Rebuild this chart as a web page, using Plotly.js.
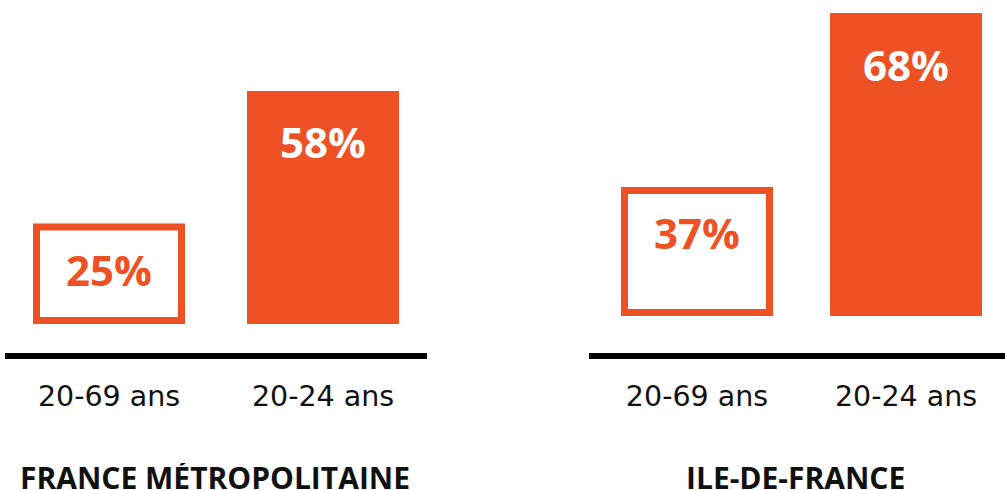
<!DOCTYPE html>
<html>
<head>
<meta charset="utf-8">
<script src="https://cdn.plot.ly/plotly-3.0.1.min.js"></script>
<style>html,body{margin:0;padding:0;background:#fff;}#chart{width:1005px;height:490px;}</style>
</head>
<body>
<div id="chart"></div>
<script>
// ---- data ----
const categories = ['20-69 ans', '20-24 ans'];
const franceValues = [25, 58];
const idfValues = [37, 68];
const groupTitles = ['FRANCE MÉTROPOLITAINE', 'ILE-DE-FRANCE'];

// ---- style / layout ----
const ORANGE = '#EE5123';
const STROKE = 7;          // outline width in px
const PLOT_H = 353;        // plot area height in px
const W = 1005, H = 490;

// per-group axis set-up
const groups = [
  {values: franceValues, title: groupTitles[0], xa: 'x', ya: 'y',
   yRange: [-7.22, 80.65], base: 0, pxPerUnit: 233 / 58,
   xDomain: [5 / W, 427 / W], xRange: [-0.486, 1.486], catPx: 214, titleX: 215 / W},
  {values: idfValues, title: groupTitles[1], xa: 'x2', ya: 'y2',
   yRange: [7.41, 70.32], base: 14, pxPerUnit: 174 / 31,
   xDomain: [589 / W, 1], xRange: [-0.5167, 1.4737], catPx: 209, titleX: 795 / W}
];

const traces = [];
const annotations = [];
groups.forEach(g => {
  const inset = (STROKE / 2) / g.pxPerUnit;
  // outlined bar (first category)
  traces.push({
    type: 'bar', xaxis: g.xa, yaxis: g.ya,
    x: [categories[0]], y: [g.values[0] - g.base - 2 * inset], base: [g.base + inset],
    width: (152 - STROKE) / g.catPx,
    marker: {color: '#ffffff', line: {color: ORANGE, width: STROKE}},
    hoverinfo: 'skip', showlegend: false
  });
  // filled bar (second category)
  traces.push({
    type: 'bar', xaxis: g.xa, yaxis: g.ya,
    x: [categories[1]], y: [g.values[1] - g.base], base: [g.base],
    width: 152 / g.catPx,
    marker: {color: ORANGE, line: {width: 0}},
    hoverinfo: 'skip', showlegend: false
  });
  // value labels
  annotations.push({
    xref: g.xa, yref: g.ya, x: categories[0], y: g.values[0],
    text: g.values[0] + '%', showarrow: false, yanchor: 'middle', yshift: -46,
    font: {family: 'Open Sans', size: 42, color: ORANGE, weight: 700}
  });
  annotations.push({
    xref: g.xa, yref: g.ya, x: categories[1], y: g.values[1],
    text: g.values[1] + '%', showarrow: false, yanchor: 'middle', yshift: -51,
    font: {family: 'Open Sans', size: 42, color: '#ffffff', weight: 700}
  });
  // group title
  annotations.push({
    xref: 'paper', yref: 'paper', x: g.titleX, y: 0, yshift: -124,
    xanchor: 'center', yanchor: 'middle', showarrow: false,
    height: 28, valign: 'middle',
    text: g.title,
    font: {family: 'Open Sans', size: 30, color: '#111111', weight: 700}
  });
});

function xAxis(g, anchor) {
  return {
    domain: g.xDomain, range: g.xRange, type: 'category', anchor: anchor,
    showline: true, linecolor: '#000000', linewidth: 6,
    showgrid: false, zeroline: false, ticks: '', fixedrange: true,
    tickfont: {family: 'DejaVu Sans', size: 28.5, color: '#111111'},
    ticklabelstandoff: 13
  };
}
function yAxis(g, anchor) {
  return {
    domain: [0, 1], range: g.yRange, anchor: anchor,
    visible: false, showgrid: false, zeroline: false, fixedrange: true
  };
}

const layout = {
  width: W, height: H,
  margin: {l: 0, r: 0, t: 0, b: H - PLOT_H, pad: 0},
  paper_bgcolor: '#ffffff', plot_bgcolor: '#ffffff',
  xaxis: xAxis(groups[0], 'y'),
  yaxis: yAxis(groups[0], 'x'),
  xaxis2: xAxis(groups[1], 'y2'),
  yaxis2: yAxis(groups[1], 'x2'),
  annotations: annotations,
  bargap: 0, showlegend: false
};

Plotly.newPlot('chart', traces, layout, {displayModeBar: false, staticPlot: true});
</script>
</body>
</html>
